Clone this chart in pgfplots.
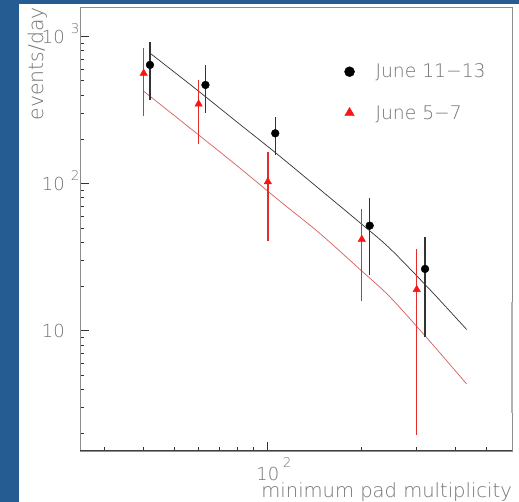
\documentclass[border=0pt]{standalone}
\usepackage{fontspec}
\IfFontExistsTF{DejaVu Sans ExtraLight}{\setmainfont{DejaVu Sans ExtraLight}}{\setmainfont{DejaVu Sans}}
\usepackage{pgfplots}
\pgfplotsset{compat=1.18}
\usepackage{pgfplotstable}
\definecolor{bgblue}{RGB}{37,92,145}
\definecolor{txtgray}{RGB}{115,115,115}
\definecolor{fitred}{RGB}{215,95,95}
\definecolor{mkred}{RGB}{250,20,20}
\definecolor{barred}{RGB}{225,45,45}

\pgfplotstableread{
x y e
41.9 642 272
63.1 469 169
105.6 220 63
212 51.8 27.8
319 26.3 17.2
}\junea
\pgfplotstableread{
x y e
40 563 274
60 348 161
100 103 62.3
200 41.8 25.9
300 19.05 17.1
}\juneb
\pgfplotstableread{
x y
42.24 762
58.2 447.6
80.1 259.9
105.1 164.2
146.6 91.6
197 54.4
245.9 36.3
330.4 19.05
433.6 10.19
}\fita
\pgfplotstableread{
x y
39.9 427
74.9 147.2
109 76.4
146.6 45.96
197 26.2
245.9 17.02
330.4 8.47
433.6 4.34
}\fitb

\newcommand{\ylab}[1]{10\rlap{\smash{\hspace{6bp}\raisebox{10bp}{\fontsize{13.5}{13.5}\selectfont #1}}}}
\newcommand{\xlab}[1]{10\rlap{\smash{\hspace{3.5bp}\raisebox{13bp}{\fontsize{13.5}{13.5}\selectfont #1}}}}

\begin{document}
\begin{tikzpicture}
\fill[bgblue] (-80bp,-51bp) rectangle (439bp,451bp);
\fill[white] (-61bp,-51bp) rectangle (439bp,447bp);
\begin{axis}[
  xmode=log, ymode=log,
  scale only axis, width=432bp, height=444bp,
  xmin=25, xmax=606, ymin=1.52, ymax=1590,
  axis line style={draw=black!45, line width=0.8bp},
  xtick={100}, xticklabels={\xlab{2}},
  minor xtick={30,40,50,60,70,80,90,200,300,400,500},
  ytick={10,100,1000}, yticklabels={10,\ylab{2},\ylab{3}},
  minor ytick={2,3,4,5,6,7,8,9,20,30,40,50,60,70,80,90,200,300,400,500,600,700,800,900},
  tick align=inside, xtick pos=bottom, ytick pos=left,
  major tick length=9bp, minor tick length=4.5bp,
  every tick/.style={black!80, line width=0.8bp},
  ticklabel style={font=\fontsize{18}{20}\selectfont, text=txtgray},
  yticklabel style={anchor=east, inner sep=0pt, xshift=-15bp},
  xticklabel style={anchor=north, inner sep=0pt, yshift=-15.7bp},
  xlabel={minimum pad multiplicity},
  xlabel style={at={([yshift=-46.3bp]rel axis cs:1,0)}, anchor=base east, inner sep=0pt, font=\fontsize{19.6}{22}\selectfont, text=txtgray},
  ylabel={events/day},
  ylabel style={at={([xshift=-37bp]rel axis cs:0,1)}, anchor=base east, inner sep=0pt, font=\fontsize{20.5}{22}\selectfont, text=txtgray},
  legend cell align=left,
  legend style={draw=none, fill=none, at={(rel axis cs:0.605,0.881)}, anchor=north west,
    font=\fontsize{18.8}{20}\selectfont, text=txtgray, row sep=22bp, column sep=19bp},
  legend image code/.code={\draw[#1] plot coordinates {(0bp,0bp)};},
]
\addplot[forget plot, smooth, black!80, line width=0.7bp] table {\fita};
\addplot[forget plot, smooth, fitred, line width=0.7bp] table {\fitb};
\addplot[forget plot, only marks, mark=triangle*, mark size=4.3bp, mkred,
  error bars/.cd, y dir=both, y explicit, error mark=none,
  error bar style={barred, line width=1.3bp}]
  table[x=x, y=y, y error=e] {\juneb};
\addplot[forget plot, only marks, mark=*, mark size=3.9bp, black,
  error bars/.cd, y dir=both, y explicit, error mark=none,
  error bar style={black!80, line width=1.4bp}]
  table[x=x, y=y, y error=e] {\junea};
\addlegendimage{only marks, mark=*, mark size=5bp, black}
\addlegendentry{June 11−13}
\addlegendimage{only marks, mark=triangle*, mark size=5.5bp, mkred}
\addlegendentry{June 5−7}
\draw[black!75, line width=1bp] (rel axis cs:0,0) -- (rel axis cs:1,0);
\end{axis}
\fill[black!30] (430.7bp,38bp) rectangle (433.3bp,149bp);
\end{tikzpicture}
\end{document}
